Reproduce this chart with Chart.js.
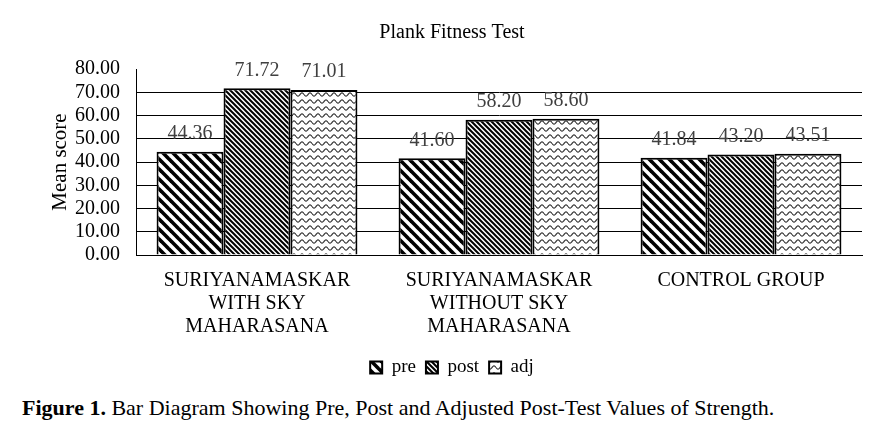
<!DOCTYPE html>
<html>
<head>
<meta charset="utf-8">
<script src="https://cdn.jsdelivr.net/npm/chart.js@4/dist/chart.umd.min.js"></script>
<style>
  html, body { margin: 0; padding: 0; background: #fff; }
  #wrap { position: relative; width: 889px; height: 390px; }
  #caption { position: absolute; left: 22px; top: 395px; font-family: "Liberation Serif", "Times New Roman", serif; font-size: 22px; color: #000; white-space: nowrap; }
</style>
</head>
<body>
<div id="wrap"><canvas id="c" width="889" height="390"></canvas></div>
<div id="caption"><b>Figure 1.</b> Bar Diagram Showing Pre, Post and Adjusted Post-Test Values of Strength.</div>
<script>
const categories = [
  ["SURIYANAMASKAR", "WITH SKY", "MAHARASANA"],
  ["SURIYANAMASKAR", "WITHOUT SKY", "MAHARASANA"],
  "CONTROL GROUP"
];
const preValues = [44.36, 41.60, 41.84];
const postValues = [71.72, 58.20, 43.20];
const adjValues = [71.01, 58.60, 43.51];
const yTicks = [0, 10, 20, 30, 40, 50, 60, 70, 80];

const FONT = '"Liberation Serif", "Times New Roman", serif';

function stripePattern(s, lw) {
  const c = document.createElement('canvas');
  c.width = s; c.height = s;
  const g = c.getContext('2d');
  g.fillStyle = '#fff'; g.fillRect(0, 0, s, s);
  g.strokeStyle = '#000'; g.lineWidth = lw; g.lineCap = 'square';
  for (let k = -1; k <= 1; k++) {
    g.beginPath();
    g.moveTo(k * s - 1, -1);
    g.lineTo(k * s + s + 1, s + 1);
    g.stroke();
  }
  return g.createPattern(c, 'repeat');
}
function wavePattern() {
  const w = 8, h = 7;
  const c = document.createElement('canvas');
  c.width = w; c.height = h;
  const g = c.getContext('2d');
  g.fillStyle = '#fff'; g.fillRect(0, 0, w, h);
  g.strokeStyle = '#333'; g.lineWidth = 1.2;
  g.beginPath();
  for (let x = 0; x <= w; x += 0.5) {
    const y = 3.5 + 1.6 * Math.sin(x / w * 2 * Math.PI);
    if (x === 0) g.moveTo(x, y); else g.lineTo(x, y);
  }
  g.stroke();
  return g.createPattern(c, 'repeat');
}

const valueLabels = {
  id: 'valueLabels',
  afterDatasetsDraw(chart) {
    const ctx = chart.ctx;
    ctx.save();
    ctx.font = '20px ' + FONT;
    ctx.fillStyle = '#404040';
    ctx.textAlign = 'center';
    ctx.textBaseline = 'bottom';
    chart.data.datasets.forEach((ds, i) => {
      chart.getDatasetMeta(i).data.forEach((bar, j) => {
        ctx.fillText(ds.data[j].toFixed(2), bar.x, bar.y - 8);
      });
    });
    ctx.restore();
  }
};

new Chart(document.getElementById('c'), {
  type: 'bar',
  data: {
    labels: categories,
    datasets: [
      { label: 'pre', data: preValues, backgroundColor: stripePattern(10, 3.6), borderColor: '#000', borderWidth: 2 },
      { label: 'post', data: postValues, backgroundColor: stripePattern(5, 2), borderColor: '#000', borderWidth: 2 },
      { label: 'adj', data: adjValues, backgroundColor: wavePattern(), borderColor: '#000', borderWidth: 2 }
    ]
  },
  options: {
    responsive: false,
    animation: false,
    layout: { padding: { left: 42, right: 27, top: 21, bottom: 3 } },
    datasets: { bar: { categoryPercentage: 0.83, barPercentage: 1.0 } },
    plugins: {
      title: { display: true, text: 'Plank Fitness Test', color: '#000', font: { family: FONT, size: 20, weight: 'normal' }, padding: { top: 0, bottom: 24 } },
      legend: {
        position: 'bottom',
        labels: { color: '#000', font: { family: FONT, size: 19 }, boxWidth: 12, boxHeight: 12, padding: 10 }
      },
      tooltip: { enabled: false }
    },
    scales: {
      x: {
        afterFit(scale) { scale.height = 93; },
        grid: { display: false, drawTicks: false },
        border: { color: '#000', width: 1 },
        ticks: { color: '#000', font: { family: FONT, size: 20, lineHeight: 1.15 }, padding: 14, maxRotation: 0, autoSkip: false }
      },
      y: {
        min: 0, max: 80,
        afterFit(scale) { scale.width = 94; },
        afterBuildTicks(scale) { scale.ticks = yTicks.map(v => ({ value: v })); },
        grid: { drawTicks: false, color: ctx => (ctx.tick && ctx.tick.value === 80) ? 'rgba(0,0,0,0)' : '#000', lineWidth: 1 },
        border: { color: '#000', width: 1 },
        ticks: { color: '#000', font: { family: FONT, size: 20 }, padding: 16, autoSkip: false, callback: v => Number(v).toFixed(2) },
        title: { display: true, text: 'Mean score', color: '#000', font: { family: FONT, size: 21 }, padding: { top: 6, bottom: 4 } }
      }
    }
  },
  plugins: [valueLabels]
});
</script>
</body>
</html>
